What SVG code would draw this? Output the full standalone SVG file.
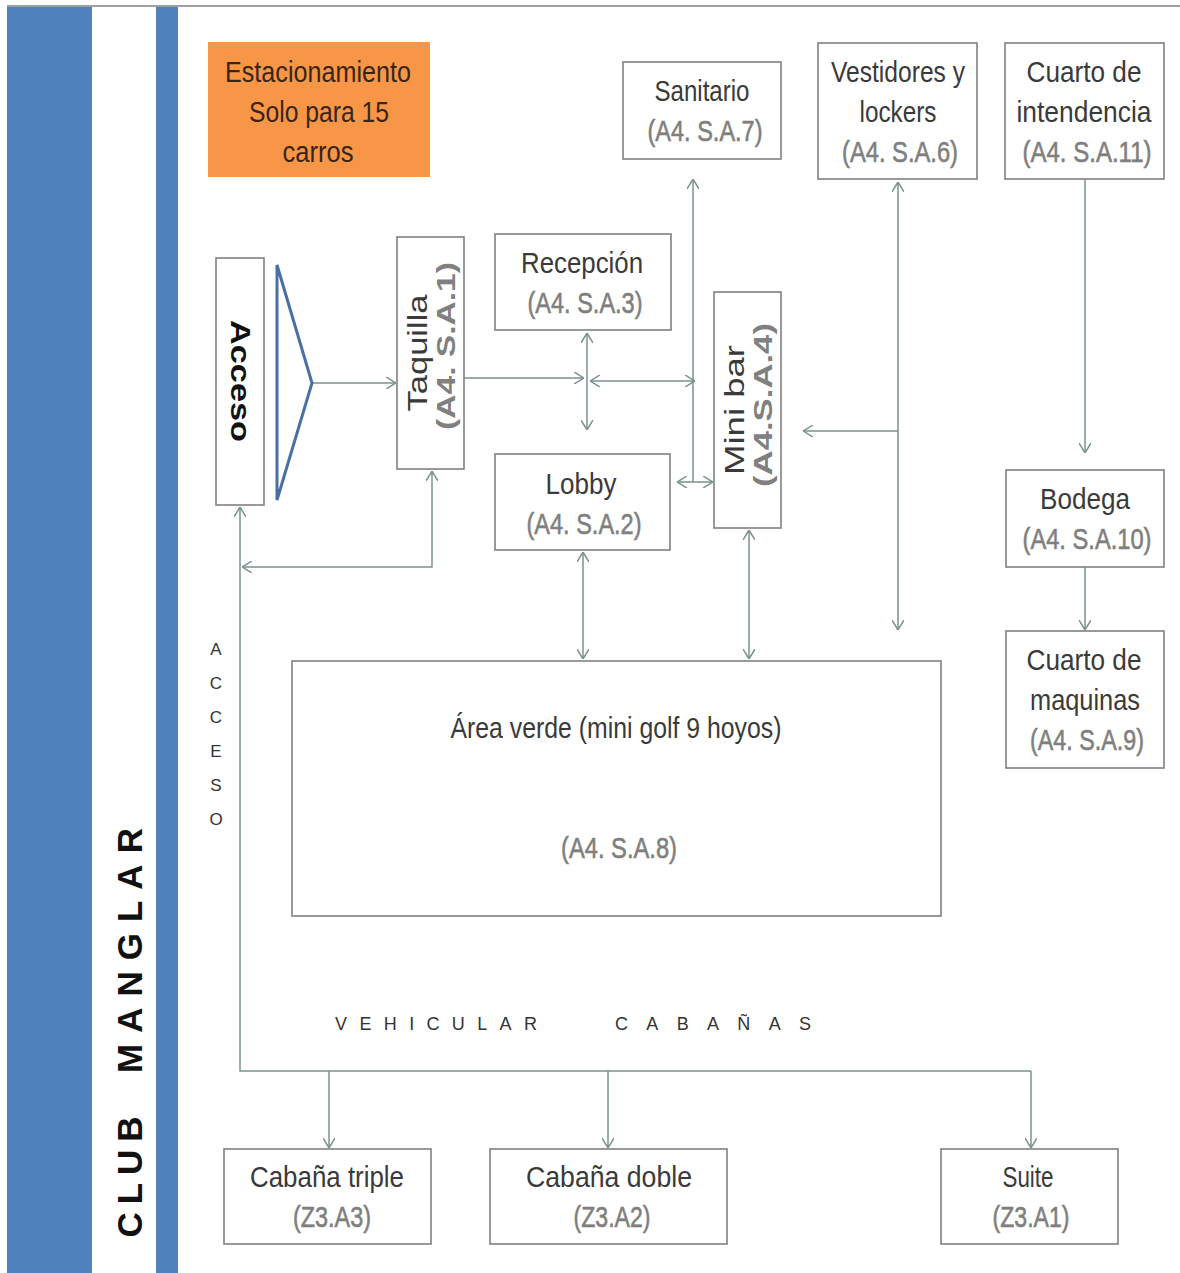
<svg xmlns="http://www.w3.org/2000/svg" width="1180" height="1273" viewBox="0 0 1180 1273">
<defs>
<style>
.box{fill:#fff;stroke:#808080;stroke-width:1.6}
.t{font-family:"Liberation Sans",Arial,sans-serif;font-size:29px;fill:#3a3a3a;text-anchor:middle}
.c{font-family:"Liberation Sans",Arial,sans-serif;font-size:29px;fill:#7f7f7f;stroke:#7f7f7f;stroke-width:0.6;text-anchor:middle}
.r{font-family:"Liberation Sans",Arial,sans-serif;font-size:27px;fill:#3a3a3a;text-anchor:middle}
.rc{font-family:"Liberation Sans",Arial,sans-serif;font-size:25px;font-weight:bold;fill:#808080;text-anchor:middle}
.cn{fill:none;stroke:#7b918e;stroke-width:1.5}
.sm{font-family:"Liberation Sans",Arial,sans-serif;font-size:17px;fill:#333;text-anchor:middle}
.sp{font-family:"Liberation Sans",Arial,sans-serif;font-size:18px;fill:#333;text-anchor:start}
</style>
<marker id="a" viewBox="0 0 10 12" refX="10" refY="6" markerWidth="10" markerHeight="12" markerUnits="userSpaceOnUse" orient="auto-start-reverse">
<path d="M0,0 L10,6 L0,12" fill="none" stroke="#7b918e" stroke-width="1.5"/>
</marker>
</defs>
<rect x="0" y="0" width="1180" height="1273" fill="#fff"/>
<g id="frame">
<line x1="7" y1="6" x2="1180" y2="6" stroke="#808080" stroke-width="1.5"/>
<rect x="7" y="7" width="85" height="1266" fill="#4f81bd"/>
<rect x="156" y="7" width="22" height="1266" fill="#4f81bd"/>
<text transform="translate(142,1173) rotate(-90)" font-family="'Liberation Sans',Arial,sans-serif" font-size="35" font-weight="bold" fill="#111" text-anchor="middle" letter-spacing="8">CLUB</text>
<text transform="translate(142,945) rotate(-90)" font-family="'Liberation Sans',Arial,sans-serif" font-size="35" font-weight="bold" fill="#111" text-anchor="middle" letter-spacing="11">MANGLAR</text>
</g>
<g id="connectors">
<path class="cn" d="M312,383 H396" marker-end="url(#a)"/>
<path class="cn" d="M464,378 H584" marker-end="url(#a)"/>
<path class="cn" d="M587,333 V430" marker-start="url(#a)" marker-end="url(#a)"/>
<path class="cn" d="M590,381 H695" marker-start="url(#a)" marker-end="url(#a)"/>
<path class="cn" d="M693,482 V179" marker-end="url(#a)"/>
<path class="cn" d="M677,482 H713" marker-start="url(#a)" marker-end="url(#a)"/>
<path class="cn" d="M898,182 V630" marker-start="url(#a)" marker-end="url(#a)"/>
<path class="cn" d="M898,431 H803" marker-end="url(#a)"/>
<path class="cn" d="M1085,179 V453" marker-end="url(#a)"/>
<path class="cn" d="M1085,567 V630" marker-end="url(#a)"/>
<path class="cn" d="M583,552 V659" marker-start="url(#a)" marker-end="url(#a)"/>
<path class="cn" d="M749,530 V659" marker-start="url(#a)" marker-end="url(#a)"/>
<path class="cn" d="M432,471 V567 H242" marker-start="url(#a)" marker-end="url(#a)"/>
<path class="cn" d="M240,507 V1071 H1031" marker-start="url(#a)"/>
<path class="cn" d="M329,1071 V1148" marker-end="url(#a)"/>
<path class="cn" d="M608,1071 V1148" marker-end="url(#a)"/>
<path class="cn" d="M1031,1071 V1148" marker-end="url(#a)"/>
</g>
<g id="estacionamiento">
<rect x="208" y="42" width="222" height="135" fill="#f79646"/>
<text class="t" x="318" y="82" style="fill:#3a2515" textLength="186" lengthAdjust="spacingAndGlyphs">Estacionamiento</text>
<text class="t" x="319" y="122" style="fill:#3a2515" textLength="140" lengthAdjust="spacingAndGlyphs">Solo para 15</text>
<text class="t" x="318" y="162" style="fill:#3a2515" textLength="71" lengthAdjust="spacingAndGlyphs">carros</text>
</g>
<g id="acceso">
<rect class="box" x="216" y="258" width="48" height="247"/>
<text transform="translate(231,381) rotate(90)" font-family="'Liberation Sans',Arial,sans-serif" font-size="27" font-weight="bold" fill="#111" text-anchor="middle" textLength="122" lengthAdjust="spacingAndGlyphs">Acceso</text>
</g>
<g id="embudo">
<path d="M277,265 L312,383 L277,500 Z" fill="none" stroke="#4a6fa5" stroke-width="3" stroke-linejoin="miter"/>
</g>
<g id="taquilla">
<rect class="box" x="397" y="237" width="67" height="232"/>
<text class="r" transform="translate(427,353) rotate(-90)" textLength="117" lengthAdjust="spacingAndGlyphs">Taquilla</text>
<text class="rc" transform="translate(455,346) rotate(-90)" textLength="168" lengthAdjust="spacingAndGlyphs">(A4. S.A.1)</text>
</g>
<g id="recepcion">
<rect class="box" x="495" y="234" width="176" height="96"/>
<text class="t" x="582" y="273" textLength="122" lengthAdjust="spacingAndGlyphs">Recepción</text>
<text class="c" x="585" y="313" textLength="115" lengthAdjust="spacingAndGlyphs">(A4. S.A.3)</text>
</g>
<g id="lobby">
<rect class="box" x="495" y="454" width="175" height="96"/>
<text class="t" x="581" y="494" textLength="71" lengthAdjust="spacingAndGlyphs">Lobby</text>
<text class="c" x="584" y="534" textLength="115" lengthAdjust="spacingAndGlyphs">(A4. S.A.2)</text>
</g>
<g id="minibar">
<rect class="box" x="714" y="292" width="67" height="236"/>
<text class="r" transform="translate(744,410) rotate(-90)" textLength="130" lengthAdjust="spacingAndGlyphs">Mini bar</text>
<text class="rc" transform="translate(772,405) rotate(-90)" textLength="164" lengthAdjust="spacingAndGlyphs">(A4.S.A.4)</text>
</g>
<g id="sanitario">
<rect class="box" x="623" y="62" width="158" height="97"/>
<text class="t" x="702" y="101" textLength="95" lengthAdjust="spacingAndGlyphs">Sanitario</text>
<text class="c" x="705" y="141" textLength="115" lengthAdjust="spacingAndGlyphs">(A4. S.A.7)</text>
</g>
<g id="vestidores">
<rect class="box" x="818" y="43" width="159" height="136"/>
<text class="t" x="898" y="82" textLength="134" lengthAdjust="spacingAndGlyphs">Vestidores y</text>
<text class="t" x="898" y="122" textLength="77" lengthAdjust="spacingAndGlyphs">lockers</text>
<text class="c" x="900" y="162" textLength="116" lengthAdjust="spacingAndGlyphs">(A4. S.A.6)</text>
</g>
<g id="intendencia">
<rect class="box" x="1005" y="43" width="159" height="136"/>
<text class="t" x="1084" y="82" textLength="115" lengthAdjust="spacingAndGlyphs">Cuarto de</text>
<text class="t" x="1084" y="122" textLength="135" lengthAdjust="spacingAndGlyphs">intendencia</text>
<text class="c" x="1087" y="162" textLength="129" lengthAdjust="spacingAndGlyphs">(A4. S.A.11)</text>
</g>
<g id="bodega">
<rect class="box" x="1006" y="470" width="158" height="97"/>
<text class="t" x="1085" y="509" textLength="90" lengthAdjust="spacingAndGlyphs">Bodega</text>
<text class="c" x="1087" y="549" textLength="129" lengthAdjust="spacingAndGlyphs">(A4. S.A.10)</text>
</g>
<g id="maquinas">
<rect class="box" x="1006" y="631" width="158" height="137"/>
<text class="t" x="1084" y="670" textLength="115" lengthAdjust="spacingAndGlyphs">Cuarto de</text>
<text class="t" x="1085" y="710" textLength="110" lengthAdjust="spacingAndGlyphs">maquinas</text>
<text class="c" x="1087" y="750" textLength="114" lengthAdjust="spacingAndGlyphs">(A4. S.A.9)</text>
</g>
<g id="area-verde">
<rect class="box" x="292" y="661" width="649" height="255"/>
<text class="t" x="616" y="738" textLength="331" lengthAdjust="spacingAndGlyphs">Área verde (mini golf 9 hoyos)</text>
<text class="c" x="619" y="858" textLength="116" lengthAdjust="spacingAndGlyphs">(A4. S.A.8)</text>
</g>
<g id="cabana-triple">
<rect class="box" x="224" y="1149" width="207" height="95"/>
<text class="t" x="327" y="1187" textLength="154" lengthAdjust="spacingAndGlyphs">Cabaña triple</text>
<text class="c" x="332" y="1227" textLength="78" lengthAdjust="spacingAndGlyphs">(Z3.A3)</text>
</g>
<g id="cabana-doble">
<rect class="box" x="490" y="1149" width="237" height="95"/>
<text class="t" x="609" y="1187" textLength="166" lengthAdjust="spacingAndGlyphs">Cabaña doble</text>
<text class="c" x="612" y="1227" textLength="77" lengthAdjust="spacingAndGlyphs">(Z3.A2)</text>
</g>
<g id="suite">
<rect class="box" x="941" y="1149" width="177" height="95"/>
<text class="t" x="1028" y="1187" textLength="51" lengthAdjust="spacingAndGlyphs">Suite</text>
<text class="c" x="1031" y="1227" textLength="77" lengthAdjust="spacingAndGlyphs">(Z3.A1)</text>
</g>
<g id="labels">
<text class="sm" x="216" y="655">A</text>
<text class="sm" x="216" y="689">C</text>
<text class="sm" x="216" y="723">C</text>
<text class="sm" x="216" y="757">E</text>
<text class="sm" x="216" y="791">S</text>
<text class="sm" x="216" y="825">O</text>
<text class="sp" x="335" y="1030" textLength="202" lengthAdjust="spacing">VEHICULAR</text>
<text class="sp" x="615" y="1030" textLength="196" lengthAdjust="spacing">CABAÑAS</text>
</g>
</svg>
